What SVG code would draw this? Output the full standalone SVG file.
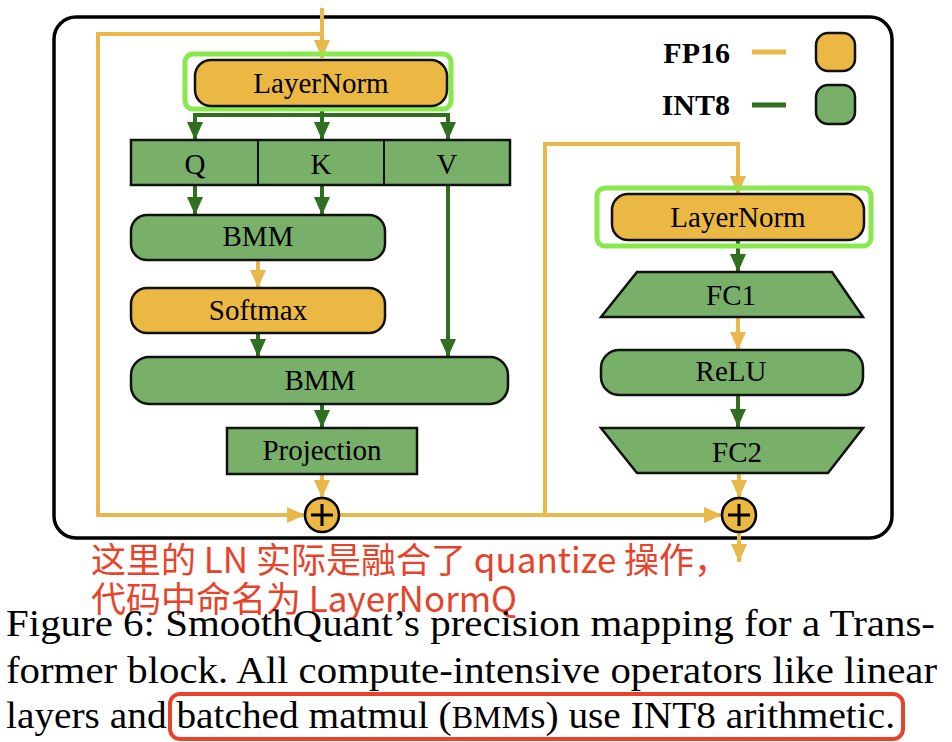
<svg xmlns="http://www.w3.org/2000/svg" width="952" height="742" viewBox="0 0 952 742">
<defs>
<style>
.lbl{font-family:"Liberation Serif","Times New Roman",serif;font-size:29px;fill:#000;text-anchor:middle}
.leg{font-family:"Liberation Serif","Times New Roman",serif;font-size:30px;font-weight:bold;fill:#000;text-anchor:end}
.fp{fill:#EAB843;stroke:#111;stroke-width:2.5}
.i8{fill:#78B06A;stroke:#111;stroke-width:2.5}
.hl{fill:none;stroke:#88E84C;stroke-width:5}
.o{fill:none;stroke:#E9B84A;stroke-width:4}
.g{fill:none;stroke:#2F6F1F;stroke-width:4}
.red{font-family:"Noto Sans CJK SC","Noto Sans",sans-serif;font-size:35px;fill:#E8432A}
.cap{font-family:"Liberation Serif","Times New Roman",serif;font-size:38px;fill:#000}
</style>
<marker id="ao" markerUnits="userSpaceOnUse" markerWidth="20" markerHeight="20" viewBox="0 0 20 20" refX="18" refY="10" orient="auto"><path d="M0,2 L18,10 L0,18 Z" fill="#E9B84A"/></marker>
<marker id="ag" markerUnits="userSpaceOnUse" markerWidth="20" markerHeight="20" viewBox="0 0 20 20" refX="18" refY="10" orient="auto"><path d="M0,2 L18,10 L0,18 Z" fill="#2F6F1F"/></marker>
</defs>
<rect width="952" height="742" fill="#fff"/>
<rect id="block" x="54" y="17" width="838" height="521" rx="22" fill="none" stroke="#000" stroke-width="3.5"/>

<g id="connectors">
<path class="o" d="M322,8 V58" marker-end="url(#ao)"/>
<path class="o" d="M322,34 H98 V515 H305" marker-end="url(#ao)"/>
<path class="g" d="M322,106 V115 M193,115 H450"/>
<path class="g" d="M195,113 V140" marker-end="url(#ag)"/>
<path class="g" d="M322,113 V140" marker-end="url(#ag)"/>
<path class="g" d="M448,113 V140" marker-end="url(#ag)"/>
<path class="g" d="M195,185 V215" marker-end="url(#ag)"/>
<path class="g" d="M322,185 V215" marker-end="url(#ag)"/>
<path class="g" d="M448,185 V357" marker-end="url(#ag)"/>
<path class="o" d="M258,260 V288" marker-end="url(#ao)"/>
<path class="g" d="M258,333 V357" marker-end="url(#ag)"/>
<path class="g" d="M322,404 V428" marker-end="url(#ag)"/>
<path class="o" d="M322,474 V498" marker-end="url(#ao)"/>
<path class="o" d="M339,515 H722" marker-end="url(#ao)"/>
<path class="o" d="M545,515 V144 H738 V194" marker-end="url(#ao)"/>
<path class="g" d="M738,240 V272" marker-end="url(#ag)"/>
<path class="o" d="M738,317 V350" marker-end="url(#ao)"/>
<path class="g" d="M738,395 V427" marker-end="url(#ag)"/>
<path class="o" d="M739,473 V498" marker-end="url(#ao)"/>
<path class="o" d="M739,532 V562" marker-end="url(#ao)"/>
</g>

<g id="legend">
<text class="leg" x="730" y="63">FP16</text>
<line x1="752" y1="52" x2="786" y2="52" stroke="#E9B84A" stroke-width="5"/>
<rect class="fp" x="816" y="33" width="39" height="38" rx="12"/>
<text class="leg" x="730" y="115">INT8</text>
<line x1="752" y1="105" x2="786" y2="105" stroke="#2F6F1F" stroke-width="5"/>
<rect class="i8" x="816" y="85" width="39" height="39" rx="12"/>
</g>

<g id="ln1">
<rect class="hl" x="185" y="54" width="266" height="55" rx="8"/>
<rect class="fp" x="195" y="60" width="252" height="46" rx="16"/>
<text class="lbl" x="321" y="93">LayerNorm</text>
</g>
<g id="qkv">
<rect class="i8" x="131" y="140" width="379" height="45" stroke-width="2"/>
<line x1="258" y1="140" x2="258" y2="185" stroke="#111" stroke-width="2"/>
<line x1="384" y1="140" x2="384" y2="185" stroke="#111" stroke-width="2"/>
<text class="lbl" x="195" y="174">Q</text>
<text class="lbl" x="321" y="174">K</text>
<text class="lbl" x="447" y="174">V</text>
</g>
<g id="bmm1">
<rect class="i8" x="131" y="215" width="254" height="45" rx="16"/>
<text class="lbl" x="258" y="246">BMM</text>
</g>
<g id="softmax">
<rect class="fp" x="131" y="288" width="254" height="45" rx="16"/>
<text class="lbl" x="258" y="320">Softmax</text>
</g>
<g id="bmm2">
<rect class="i8" x="131" y="357" width="377" height="47" rx="18"/>
<text class="lbl" x="320" y="390">BMM</text>
</g>
<g id="projection">
<rect class="i8" x="227" y="428" width="190" height="46"/>
<text class="lbl" x="322" y="460">Projection</text>
</g>
<g id="add1">
<circle cx="322" cy="515" r="17" fill="#EAB843" stroke="#000" stroke-width="2.5"/>
<path d="M311,515 H333 M322,504 V526" stroke="#000" stroke-width="3"/>
</g>

<g id="ln2">
<rect class="hl" x="597" y="188" width="274" height="58" rx="8"/>
<rect class="fp" x="612" y="194" width="252" height="46" rx="16"/>
<text class="lbl" x="738" y="227">LayerNorm</text>
</g>
<g id="fc1">
<polygon class="i8" points="637,272 832,272 863,317 601,317"/>
<text class="lbl" x="731" y="305">FC1</text>
</g>
<g id="relu">
<rect class="i8" x="601" y="350" width="262" height="45" rx="18"/>
<text class="lbl" x="731" y="381">ReLU</text>
</g>
<g id="fc2">
<polygon class="i8" points="601,428 863,428 828,473 637,473"/>
<text class="lbl" x="737" y="462">FC2</text>
</g>
<g id="add2">
<circle cx="739" cy="515" r="17" fill="#EAB843" stroke="#000" stroke-width="2.5"/>
<path d="M728,515 H750 M739,504 V526" stroke="#000" stroke-width="3"/>
</g>

<g id="annotation">
<text class="red" x="91" y="573">这里的 LN 实际是融合了 quantize 操作，</text>
<text class="red" x="91" y="612">代码中命名为 LayerNormQ</text>
</g>

<g id="caption">
<text class="cap" x="6" y="636" textLength="929" lengthAdjust="spacingAndGlyphs">Figure 6: SmoothQuant’s precision mapping for a Trans-</text>
<text class="cap" x="6" y="683" textLength="931" lengthAdjust="spacingAndGlyphs">former block. All compute-intensive operators like linear</text>
<text class="cap" x="6" y="728" textLength="889" lengthAdjust="spacingAndGlyphs">layers and batched matmul (<tspan font-size="31">BMM</tspan>s) use INT8 arithmetic.</text>
<rect x="170" y="694" width="733" height="45" rx="10" fill="none" stroke="#E8432A" stroke-width="4"/>
</g>
</svg>
